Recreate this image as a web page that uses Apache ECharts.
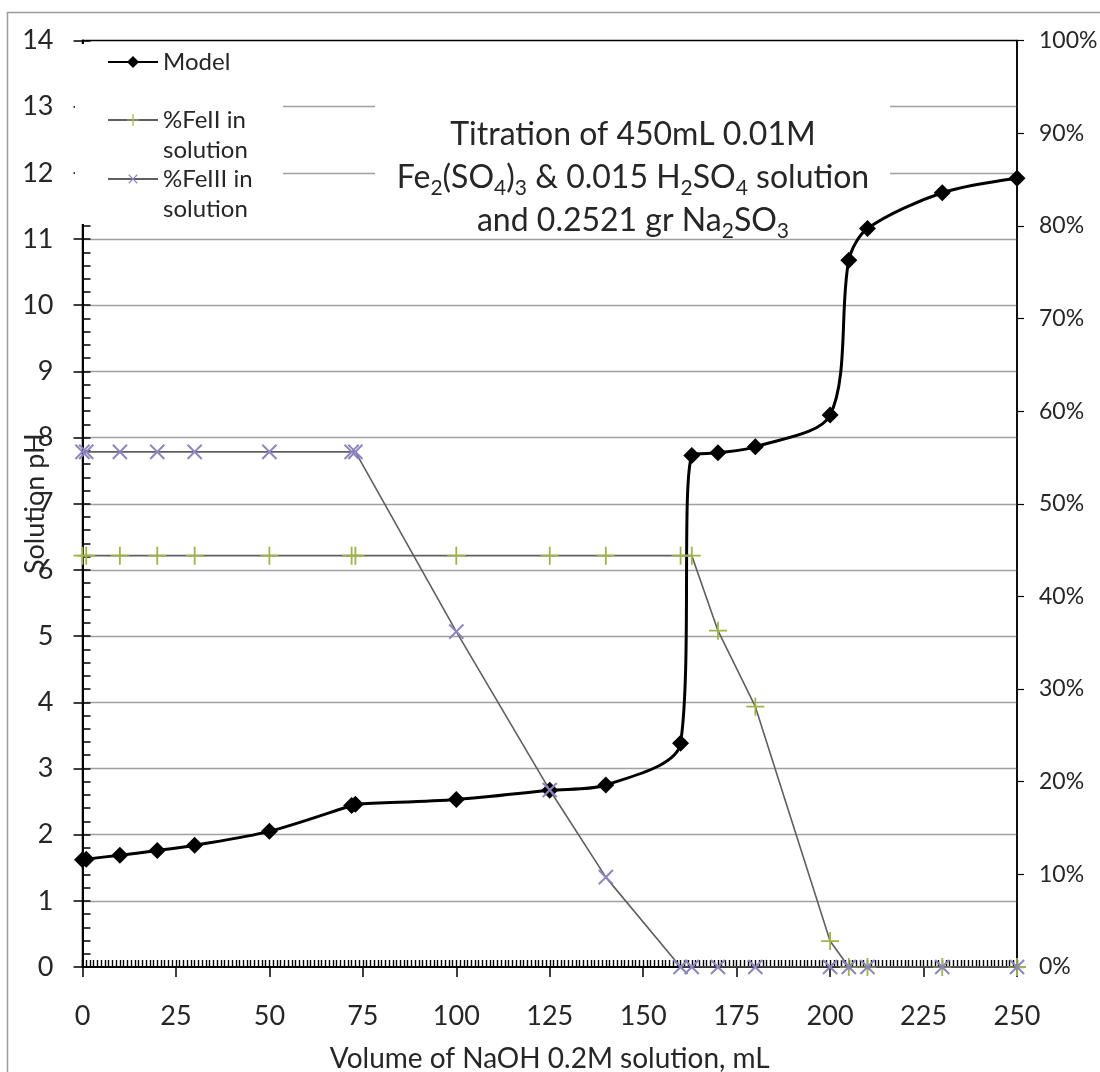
<!DOCTYPE html>
<html>
<head>
<meta charset="utf-8">
<script src="https://cdn.jsdelivr.net/npm/echarts@6/dist/echarts.min.js"></script>
<style>
  html, body { margin: 0; padding: 0; background: #ffffff; }
  #chart { width: 1100px; height: 1072px; }
</style>
</head>
<body>
<div id="chart"></div>
<script>
// Titration curve: NaOH volume (mL) against modelled solution pH
const modelVolume = [0, 1, 10, 20, 30, 50, 72, 73, 100, 125, 140, 160, 163, 170, 180, 200, 205, 210, 230, 250];
const modelPH     = [1.62, 1.63, 1.69, 1.76, 1.84, 2.05, 2.44, 2.46, 2.53, 2.67, 2.75, 3.38, 7.73, 7.77, 7.86, 8.34, 10.68, 11.16, 11.70, 11.92];

// Iron speciation (% of total iron still dissolved)
const ironVolume = [0, 1, 10, 20, 30, 50, 72, 73, 100, 125, 140, 160, 163, 170, 180, 200, 205, 210, 230, 250];
const fe2Percent = [44.4, 44.4, 44.4, 44.4, 44.4, 44.4, 44.4, 44.4, 44.4, 44.4, 44.4, 44.4, 44.4, 36.3, 28.1, 2.8, 0, 0, 0, 0];
const fe3Percent = [55.6, 55.6, 55.6, 55.6, 55.6, 55.6, 55.6, 55.6, 36.2, 19.1, 9.7, 0, 0, 0, 0, 0, 0, 0, 0, 0];

const seriesNames = ['Model', '%FeII in solution', '%FeIII in solution'];
// a blank first line keeps the marker level with the first text line
const legendLabels = ['Model', ' \n%FeII in\nsolution', ' \n%FeIII in\nsolution'];
const xAxisTitle = 'Volume of NaOH 0.2M solution, mL';
const yAxisTitle = 'Solution pH';
const chartTitle = 'Titration of 450mL 0.01M\nFe{s|2}(SO{s|4}){s|3} & 0.015 H{s|2}SO{s|4} solution\nand 0.2521 gr Na{s|2}SO{s|3}';

const pairs = (xs, ys) => xs.map((x, i) => [x, ys[i]]);

const FONT = 'Lato';
const TEXT = '#262626';
const PLUS = 'path://M9,0h2v9h9v2h-9v9h-2v-9h-9v-2h9z';

const chart = echarts.init(document.getElementById('chart'), null, { renderer: 'canvas' });

const legendBase = {
  orient: 'vertical',
  left: 107,
  padding: 0,
  itemWidth: 50,
  itemHeight: 15,
  itemGap: 0,
  selectedMode: false,
  z: 5,
  textStyle: { fontFamily: FONT, fontSize: 24, color: TEXT, lineHeight: 30 }
};

chart.setOption({
  animation: false,
  backgroundColor: '#ffffff',
  textStyle: { fontFamily: FONT },
  title: {
    text: chartTitle,
    left: 633,
    top: 113,
    textAlign: 'center',
    padding: 0,
    z: 6,
    textStyle: {
      fontFamily: FONT,
      fontSize: 32,
      fontWeight: 'normal',
      color: TEXT,
      lineHeight: 43,
      rich: {
        s: { fontFamily: FONT, fontSize: 21, color: TEXT, lineHeight: 21, verticalAlign: 'bottom' }
      }
    }
  },
  legend: [
    Object.assign({}, legendBase, { top: 47, data: [seriesNames[0]], formatter: () => legendLabels[0] }),
    Object.assign({}, legendBase, { top: 75, data: [seriesNames[1]], formatter: () => legendLabels[1] }),
    Object.assign({}, legendBase, { top: 134, data: [seriesNames[2]], formatter: () => legendLabels[2] })
  ],
  grid: {
    left: 82.5,
    right: 83,
    top: 40.5,
    bottom: 105,
    show: true,
    borderColor: '#000000',
    borderWidth: 1.5,
    backgroundColor: 'transparent',
    containLabel: false,
    outerBoundsMode: 'none'
  },
  graphic: [
    // outer chart frame
    { type: 'rect', z: 10, silent: true,
      shape: { x: 7.5, y: 12.5, width: 1300, height: 1300 },
      style: { fill: 'none', stroke: '#9a9a9a', lineWidth: 1.5 } },
    // legend panel
    { type: 'rect', z: 3, silent: true,
      shape: { x: 75, y: 44, width: 208, height: 180 },
      style: { fill: '#ffffff' } },
    // title panel
    { type: 'rect', z: 1, silent: true,
      shape: { x: 375, y: 95, width: 515, height: 137 },
      style: { fill: '#ffffff' } }
  ],
  xAxis: [
    {
      type: 'value', min: 0, max: 250, interval: 25, position: 'bottom',
      name: xAxisTitle, nameLocation: 'middle', nameGap: 78, nameMoveOverlap: false,
      nameTextStyle: { fontFamily: FONT, fontSize: 28, color: TEXT },
      axisLine: { onZero: false, lineStyle: { color: '#000000', width: 2 } },
      axisTick: { show: true, inside: false, length: 10, lineStyle: { color: '#000000', width: 1.5 } },
      axisLabel: { fontFamily: FONT, fontSize: 27, color: TEXT, margin: 36 },
      splitLine: { show: false }
    },
    {
      // fine 1 mL tick marks inside the plot
      type: 'value', min: 0, max: 250, interval: 1, position: 'bottom',
      axisLine: { show: false, onZero: false },
      axisTick: { show: true, inside: true, length: 7, lineStyle: { color: '#000000', width: 1.4 } },
      axisLabel: { show: false },
      splitLine: { show: false }
    }
  ],
  yAxis: [
    {
      type: 'value', min: 0, max: 14, interval: 1, position: 'left',
      name: yAxisTitle, nameLocation: 'middle', nameGap: 34, nameRotate: 90, nameMoveOverlap: false,
      nameTextStyle: { fontFamily: FONT, fontSize: 27, color: TEXT },
      axisLine: { onZero: false, lineStyle: { color: '#000000', width: 2 } },
      axisTick: { show: true, inside: false, length: 9, lineStyle: { color: '#000000', width: 1.5 } },
      axisLabel: { fontFamily: FONT, fontSize: 27, color: TEXT, margin: 29 },
      splitLine: { show: true, showMinLine: false, showMaxLine: false, lineStyle: { color: '#a0a0a0', width: 1.3 } }
    },
    {
      type: 'value', min: 0, max: 100, interval: 10, position: 'right',
      axisLine: { show: true, onZero: false, lineStyle: { color: '#000000', width: 1.5 } },
      axisTick: { show: true, inside: false, length: 7, lineStyle: { color: '#000000', width: 1.2 } },
      axisLabel: { fontFamily: FONT, fontSize: 23, color: TEXT, margin: 22, formatter: '{value}%' },
      splitLine: { show: false }
    },
    {
      // fine pH tick marks inside the plot
      type: 'value', min: 0, max: 14, interval: 0.2, position: 'left',
      axisLine: { show: false, onZero: false },
      axisTick: { show: true, inside: true, length: 8, lineStyle: { color: '#000000', width: 1.5 } },
      axisLabel: { show: false },
      splitLine: { show: false }
    }
  ],
  series: [
    {
      name: seriesNames[0], type: 'line', xAxisIndex: 0, yAxisIndex: 0,
      data: pairs(modelVolume, modelPH),
      smooth: 0.3,
      symbol: 'diamond', symbolSize: 17,
      lineStyle: { color: '#000000', width: 3 },
      itemStyle: { color: '#000000' },
      z: 2
    },
    {
      name: seriesNames[1], type: 'line', xAxisIndex: 0, yAxisIndex: 1,
      data: pairs(ironVolume, fe2Percent),
      symbol: PLUS, symbolSize: 18,
      lineStyle: { color: '#5f5f5f', width: 1.6 },
      itemStyle: { color: '#9db44a' },
      z: 3
    },
    {
      name: seriesNames[2], type: 'line', xAxisIndex: 0, yAxisIndex: 1,
      data: pairs(ironVolume, fe3Percent),
      symbol: PLUS, symbolSize: 20, symbolRotate: 45,
      lineStyle: { color: '#5f5f5f', width: 1.6 },
      itemStyle: { color: '#8c86bf' },
      z: 4
    }
  ]
});
</script>
</body>
</html>
